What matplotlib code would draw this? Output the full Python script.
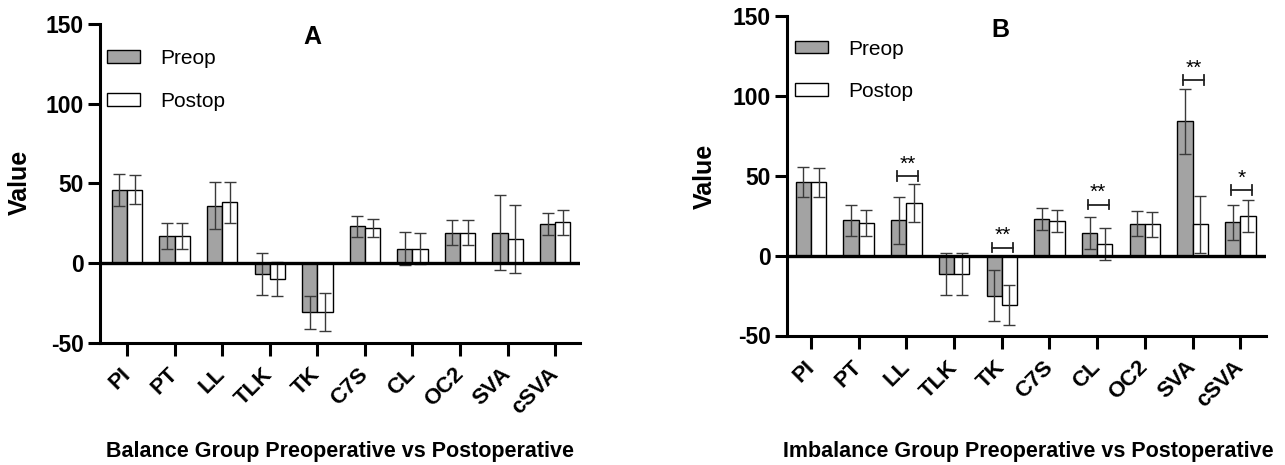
import numpy as np
import matplotlib
matplotlib.use("Agg")
import matplotlib.pyplot as plt
from matplotlib.patches import Patch

plt.rcParams['font.family'] = ['Liberation Sans', 'DejaVu Sans']
plt.rcParams['axes.unicode_minus'] = False

# ---- data ----
params = ['PI', 'PT', 'LL', 'TLK', 'TK', 'C7S', 'CL', 'OC2', 'SVA', 'cSVA']

# Balance group (panel A)
bal_pre_mean = [46, 17, 36, -7, -31, 23, 9, 19, 19, 24.5]
bal_pre_sd = [10, 8, 14.5, 13, 10.5, 6.5, 10.5, 7.7, 23.5, 7]
bal_post_mean = [46, 17, 38, -10, -31, 22, 9, 19, 15, 25.5]
bal_post_sd = [9, 8, 12.7, 10.5, 12, 5.5, 9.5, 7.7, 21.5, 8]

# Imbalance group (panel B)
imb_pre_mean = [46, 22, 22, -11.5, -25, 23, 14, 20, 84, 21]
imb_pre_sd = [9.5, 9.5, 15, 13, 16, 7, 10, 8, 20.5, 11]
imb_post_mean = [46, 20.5, 33, -11.5, -31, 21.5, 7.5, 19.5, 19.5, 25]
imb_post_sd = [9, 8.3, 12, 13, 12.7, 7, 10, 8, 18, 10]

# significance marks in panel B
sig_params = ['LL', 'TK', 'CL', 'SVA', 'cSVA']
sig_level = [50, 5, 32, 110, 41]
sig_text = ['**', '**', '**', '**', '*']

W, H = 1285, 465
fig = plt.figure(figsize=(W / 100, H / 100), dpi=100)


def draw_panel(ax, pre_m, pre_s, post_m, post_s, xlim, leg_anchor):
    x = np.arange(len(params))
    bw = 0.32
    err_kw = dict(ecolor='#3a3a3a', elinewidth=1.0, capsize=4, capthick=1.0)
    ax.bar(x - bw / 2, pre_m, bw, yerr=pre_s, color='#a3a3a3',
           edgecolor='black', linewidth=1.0, error_kw=err_kw, zorder=2)
    ax.bar(x + bw / 2, post_m, bw, yerr=post_s, color='white',
           edgecolor='black', linewidth=1.0, error_kw=err_kw, zorder=2)
    ax.axhline(0, color='black', lw=2.4, zorder=3)
    ax.set_xlim(*xlim)
    ax.set_ylim(-50, 150)
    ax.set_yticks([-50, 0, 50, 100, 150])
    ax.set_xticks(x)
    ax.set_xticklabels(params, rotation=45, ha='right', va='center',
                       rotation_mode='anchor', fontsize=16, fontweight='bold')
    for lab in ax.get_yticklabels():
        lab.set_fontsize(16.5)
        lab.set_fontweight('bold')
    ax.tick_params(axis='y', length=8.6, width=2.2, pad=3)
    ax.tick_params(axis='x', length=9.5, width=2.2, pad=11)
    for s in ['top', 'right']:
        ax.spines[s].set_visible(False)
    for s in ['left', 'bottom']:
        ax.spines[s].set_linewidth(2.2)
    ax.legend(handles=[Patch(facecolor='#a3a3a3', edgecolor='black', lw=1.0),
                       Patch(facecolor='white', edgecolor='black', lw=1.0)],
              labels=['Preop', 'Postop'], loc='upper left',
              bbox_to_anchor=leg_anchor, frameon=False, fontsize=15,
              handlelength=1.6, handleheight=0.55, handletextpad=0.95,
              labelspacing=1.13)


axA = fig.add_axes([100 / W, (H - 342.5) / H, 480 / W, 318.5 / H])
draw_panel(axA, bal_pre_mean, bal_pre_sd, bal_post_mean, bal_post_sd,
           (-0.567, 9.52), (-0.025, 0.98))

axB = fig.add_axes([787 / W, (H - 335.5) / H, 479 / W, 319.5 / H])
draw_panel(axB, imb_pre_mean, imb_pre_sd, imb_post_mean, imb_post_sd,
           (-0.503, 9.54), (-0.023, 0.985))

for name, lev, txt in zip(sig_params, sig_level, sig_text):
    i = params.index(name)
    x0, x1 = i - 0.2, i + 0.24
    axB.plot([x0, x1], [lev, lev], color='#222222', lw=1.3, zorder=4)
    axB.plot([x0, x0], [lev - 3, lev + 3], color='#222222', lw=1.3, zorder=4)
    axB.plot([x1, x1], [lev - 3, lev + 3], color='#222222', lw=1.3, zorder=4)
    axB.text((x0 + x1) / 2, lev + 1.5, txt, ha='center', va='bottom', fontsize=15)

# panel letters
fig.text(312 / W, 1 - 37 / H, 'A', ha='center', va='center', fontsize=18, fontweight='bold')
fig.text(1000 / W, 1 - 30 / H, 'B', ha='center', va='center', fontsize=18, fontweight='bold')

# axis titles
fig.text(20 / W, 1 - 182 / H, 'Value', rotation=90, ha='center', va='center',
         fontsize=18, fontweight='bold')
fig.text(705 / W, 1 - 176 / H, 'Value', rotation=90, ha='center', va='center',
         fontsize=18, fontweight='bold')
fig.text(340 / W, 1 - 451 / H, 'Balance Group Preoperative vs Postoperative',
         ha='center', va='center', fontsize=15.5, fontweight='bold')
fig.text(1028 / W, 1 - 451 / H, 'Imbalance Group Preoperative vs Postoperative',
         ha='center', va='center', fontsize=15.5, fontweight='bold')

fig.savefig('out.png', dpi=100)
